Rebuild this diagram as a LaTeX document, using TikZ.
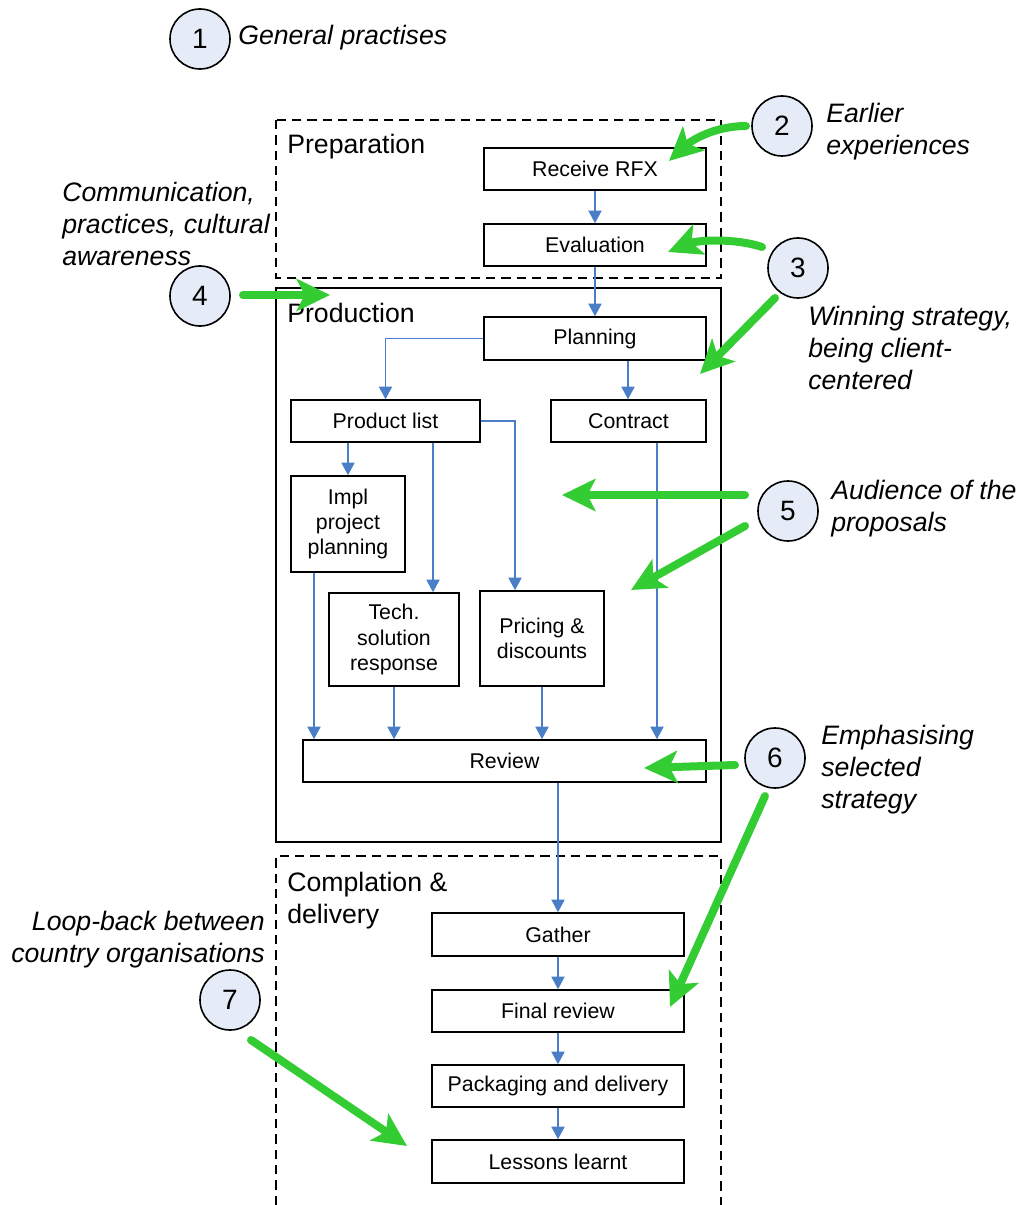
\documentclass[tikz,border=0pt]{standalone}
\usepackage{fontspec}
\setmainfont{Liberation Sans}
\usetikzlibrary{arrows.meta}
\definecolor{flowblue}{HTML}{4A7EC7}
\definecolor{callgreen}{HTML}{33CC33}
\definecolor{circfill}{HTML}{E6ECF7}
\begin{document}
\begin{tikzpicture}[x=0.75pt,y=-0.75pt,
  stepbox/.style={draw, line width=1.2pt, inner sep=0pt, font=\fontsize{16}{19}\selectfont, align=center},
  flow/.style={draw=flowblue, line width=0.8pt, -{Triangle[length=9.5pt,width=10pt]}},
  callout/.style={draw=callgreen, line width=6pt, line cap=round, -{Stealth[length=25pt,width=24pt,inset=6pt]}},
  num/.style={circle, draw, line width=1.2pt, fill=circfill, minimum size=45pt, inner sep=0pt, font=\fontsize{21}{24}\selectfont},
  note/.style={font=\fontsize{20}{24}\selectfont\itshape, inner sep=0pt, align=left},
  phase/.style={font=\fontsize{20}{24}\selectfont, inner sep=0pt, align=left},
  region/.style={line width=1.1pt},
  dregion/.style={line width=1.1pt, dash pattern=on 7pt off 4.5pt}]
\useasboundingbox (0,0) rectangle (1025,1205);

% regions
\draw[dregion] (276,120) rectangle (721,278);
\draw[region] (276,288) rectangle (721,842);
\draw[dregion] (276,1205) -- (276,856) -- (721,856) -- (721,1205);
\node[phase, anchor=base west] (lprep) at (287,154) {Preparation};
\node[phase, anchor=base west] (lprod) at (287,322) {Production};
\node[phase, anchor=west] (lcomp) at (287,901) {Complation \&\\delivery};

% steps
\node[stepbox, minimum width=166.5pt, minimum height=31.5pt] (rfx) at (595,169) {Receive RFX};
\node[stepbox, minimum width=166.5pt, minimum height=31.5pt] (eval) at (595,245) {Evaluation};
\node[stepbox, minimum width=166.5pt, minimum height=32.25pt] (plan) at (595,338.5) {Planning};
\node[stepbox, minimum width=141.75pt, minimum height=31.5pt] (prod) at (385.5,421) {Product list};
\node[stepbox, minimum width=116.25pt, minimum height=31.5pt] (contract) at (628.5,421) {Contract};
\node[stepbox, minimum width=85.5pt, minimum height=72pt] (impl) at (348,524) {Impl\\project\\planning};
\node[stepbox, minimum width=97.5pt, minimum height=69.75pt] (tech) at (394,639.5) {Tech.\\solution\\response};
\node[stepbox, minimum width=93pt, minimum height=71.25pt] (price) at (542,638.5) {Pricing \&\\discounts};
\node[stepbox, minimum width=302.25pt, minimum height=31.5pt] (review) at (504.5,761) {Review};
\node[stepbox, minimum width=189pt, minimum height=32.25pt] (gather) at (558,934.5) {Gather};
\node[stepbox, minimum width=189pt, minimum height=31.5pt] (final) at (558,1011) {Final review};
\node[stepbox, minimum width=189pt, minimum height=31.5pt] (pack) at (558,1086) {Packaging and delivery};
\node[stepbox, minimum width=189pt, minimum height=32.25pt] (lessons) at (558,1161.5) {Lessons learnt};

% flow connectors
\coordinate (xa) at (558,0);
\coordinate (xb) at (433,0);
\coordinate (xc) at (515,0);
\coordinate (xd) at (657,0);
\coordinate (xe) at (314,0);
\coordinate (xf) at (628,0);
\draw[flow] (rfx.south) -- (eval.north);
\draw[flow] (eval.south) -- (plan.north);
\draw[flow] (plan.west) -| (prod.north);
\draw[flow] (plan.south -| xf) -- (contract.north -| xf);
\draw[flow] (prod.south -| impl.north) -- (impl.north);
\draw[flow] (prod.south -| xb) -- (tech.north -| xb);
\draw[flow] (prod.east) -| (price.north -| xc);
\draw[flow] (contract.south -| xd) -- (review.north -| xd);
\draw[flow] (impl.south -| xe) -- (review.north -| xe);
\draw[flow] (tech.south) -- (review.north -| tech.south);
\draw[flow] (price.south) -- (review.north -| price.south);
\draw[flow] (review.south -| xa) -- (gather.north -| xa);
\draw[flow] (gather.south -| xa) -- (final.north -| xa);
\draw[flow] (final.south -| xa) -- (pack.north -| xa);
\draw[flow] (pack.south -| xa) -- (lessons.north -| xa);

% numbered circles
\node[num] (c1) at (200,39) {1};
\node[num] (c2) at (782,126) {2};
\node[num] (c3) at (798,268) {3};
\node[num] (c4) at (200,296) {4};
\node[num] (c5) at (788,511) {5};
\node[num] (c6) at (775,758) {6};
\node[num] (c7) at (230,1000) {7};

% notes
\node[note, anchor=base west] (n1) at (238,45) {General practises};
\node[note, anchor=west] (n2) at (826,132) {Earlier\\experiences};
\node[note, anchor=west] (n4) at (62,224) {Communication,\\practices, cultural\\awareness};
\node[note, anchor=west] (n3) at (808,348) {Winning strategy,\\being client-\\centered};
\node[note, anchor=west] (n5) at (831,509) {Audience of the\\proposals};
\node[note, anchor=west] (n6) at (821,770) {Emphasising\\selected\\strategy};
\node[note, anchor=east, align=right] (n7) at (265,940) {Loop-back between\\country organisations};

% green callouts
\coordinate (s2) at (746,126);  \coordinate (t2) at (669,161);
\coordinate (s3a) at (762,247); \coordinate (t3a) at (668,252);
\coordinate (s3b) at (775,298); \coordinate (t3b) at (700,374);
\coordinate (s4) at (243,295);  \coordinate (t4) at (330,295);
\coordinate (s5a) at (745,495); \coordinate (t5a) at (562,495);
\coordinate (s5b) at (745,526); \coordinate (t5b) at (631,590);
\coordinate (s6a) at (735,765); \coordinate (t6a) at (644,768);
\coordinate (s6b) at (765,796); \coordinate (t6b) at (670,1007);
\coordinate (s7) at (251,1040); \coordinate (t7) at (407,1146);
\draw[callout] (s2) .. controls (715,126) and (692,140) .. (t2);
\draw[callout] (s3a) .. controls (735,238) and (698,240) .. (t3a);
\draw[callout] (s3b) -- (t3b);
\draw[callout] (s4) -- (t4);
\draw[callout] (s5a) -- (t5a);
\draw[callout] (s5b) -- (t5b);
\draw[callout] (s6a) -- (t6a);
\draw[callout] (s6b) -- (t6b);
\draw[callout] (s7) -- (t7);
\end{tikzpicture}
\end{document}
